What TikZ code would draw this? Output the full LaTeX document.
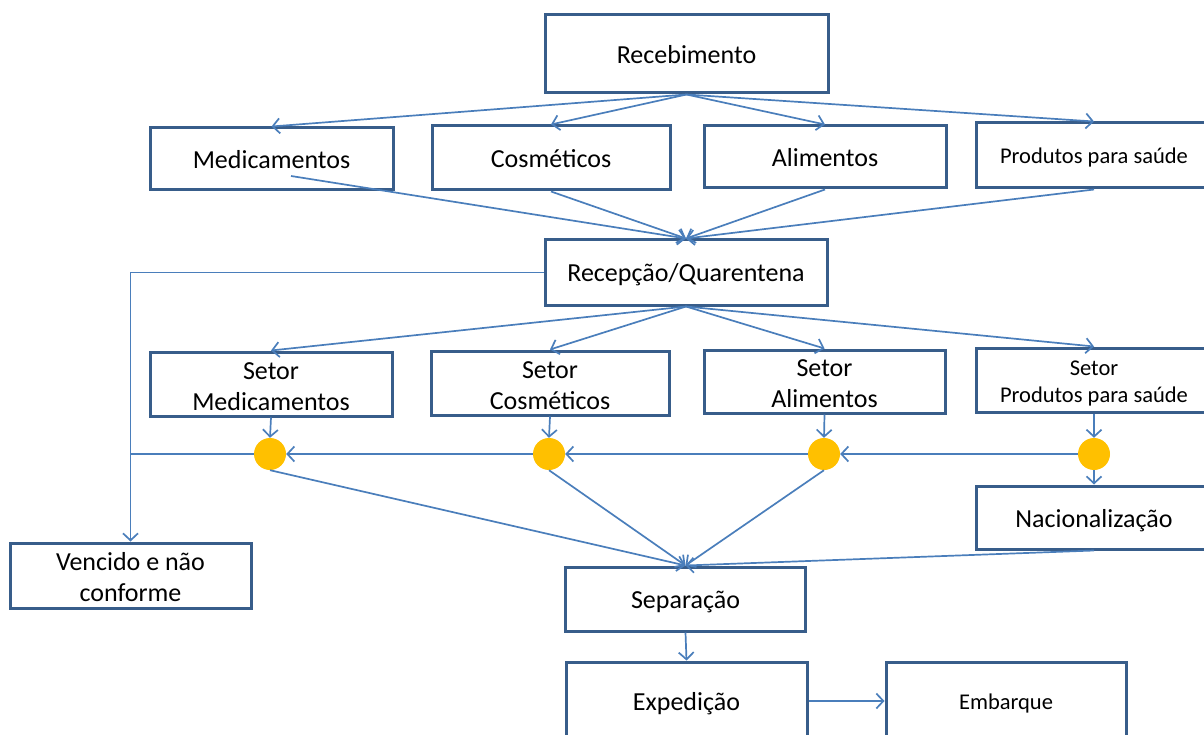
\documentclass[tikz,border=0pt]{standalone}
\usepackage{fontspec}
\setmainfont{Carlito}
\usetikzlibrary{arrows.meta,calc}
\definecolor{boxc}{HTML}{385D8A}
\definecolor{linec}{HTML}{4A7EBB}
\definecolor{dotc}{HTML}{FFC000}
\begin{document}
\begin{tikzpicture}[x=1pt,y=-1pt,
  box/.style={draw=boxc,line width=3pt,fill=white,rectangle,inner sep=0pt,
    align=center,text=black,font=\fontsize{26}{31}\selectfont},
  one/.style={box,text height=23pt,text depth=4pt},
  smallbox/.style={box,font=\fontsize{22.5}{27}\selectfont},
  smallone/.style={smallbox,text height=20pt,text depth=3pt},
  dotnode/.style={circle,fill=dotc,draw=none,minimum size=32pt,inner sep=0pt},
  conn/.style={draw=linec,line width=1.7pt},
  arr/.style={conn,-{Straight Barb[length=7pt,width=15pt]}}]
\useasboundingbox (0,0) rectangle (1204,735);
% boxes
\node[one,minimum width=283pt,minimum height=78pt] (rec) at (686.5,54) {Recebimento};
\node[one,minimum width=243pt,minimum height=62pt] (med) at (271.5,159) {Medicamentos};
\node[one,minimum width=238pt,minimum height=64pt] (cos) at (551,158) {Cosméticos};
\node[one,minimum width=242pt,minimum height=62pt] (ali) at (825,157) {Alimentos};
\node[smallone,minimum width=236pt,minimum height=65pt] (prod) at (1094,155.5) {Produtos para saúde};
\node[one,minimum width=282pt,minimum height=65pt] (recq) at (686,272.5) {Recepção/Quarentena};
\node[box,minimum width=242pt,minimum height=64pt] (smed) at (271,384) {\rule{0pt}{22pt}Setor\\Medicamentos};
\node[box,minimum width=238pt,minimum height=64pt] (scos) at (550,383) {\rule{0pt}{22pt}Setor\\Cosméticos};
\node[box,minimum width=241pt,minimum height=63pt] (sali) at (824.5,381.5) {\rule{0pt}{22pt}Setor\\Alimentos};
\node[smallbox,minimum width=236pt,minimum height=64pt] (sprod) at (1094,380) {\rule{0pt}{22pt}Setor\\Produtos para saúde};
\node[one,minimum width=236pt,minimum height=63pt] (nac) at (1094,517.5) {Nacionalização};
\node[box,minimum width=241pt,minimum height=65pt] (venc) at (130.5,575.5) {\rule{0pt}{22pt}Vencido e não\\conforme};
\node[one,minimum width=240pt,minimum height=64pt] (sep) at (685.5,599) {Separação};
\node[one,minimum width=241pt,minimum height=78pt] (exp) at (686.5,701) {Expedição};
\node[smallone,minimum width=240pt,minimum height=78pt] (emb) at (1006,701) {Embarque};
% dots
\node[dotnode] (d1) at (270,454) {};
\node[dotnode] (d2) at (549,454) {};
\node[dotnode] (d3) at (824,454) {};
\node[dotnode] (d4) at (1094,454) {};
\coordinate (medout) at (291,176);
\coordinate (junc) at (131,454);
% connectors
\draw[arr] (rec.south) -- (med.north);
\draw[arr] (rec.south) -- (cos.north);
\draw[arr] (rec.south) -- (ali.north);
\draw[arr] (rec.south) -- (prod.north);
\draw[arr] (medout) -- (recq.north);
\draw[arr] (cos.south) -- (recq.north);
\draw[arr] (ali.south) -- (recq.north);
\draw[arr] (prod.south) -- (recq.north);
\draw[arr] (recq.south) -- (smed.north);
\draw[arr] (recq.south) -- (scos.north);
\draw[arr] (recq.south) -- (sali.north);
\draw[arr] (recq.south) -- (sprod.north);
\draw[arr] (recq.west) -| (venc.north);
\draw[arr] (smed.south) -- (d1.north);
\draw[arr] (scos.south) -- (d2.north);
\draw[arr] (sali.south) -- (d3.north);
\draw[arr] (sprod.south) -- (d4.north);
\draw[arr] (d4.west) -- (d3.east);
\draw[arr] (d3.west) -- (d2.east);
\draw[arr] (d2.west) -- (d1.east);
\draw[conn] (d1.west) -- (junc);
\draw[arr] (d4.south) -- (nac.north);
\draw[arr] (d1.south) -- (sep.north);
\draw[arr] (d2.south) -- (sep.north);
\draw[arr] (d3.south) -- (sep.north);
\draw[arr] (nac.south) -- (sep.north);
\draw[arr] (sep.south) -- (exp.north);
\draw[arr] (exp.east) -- (emb.west);
\end{tikzpicture}
\end{document}
